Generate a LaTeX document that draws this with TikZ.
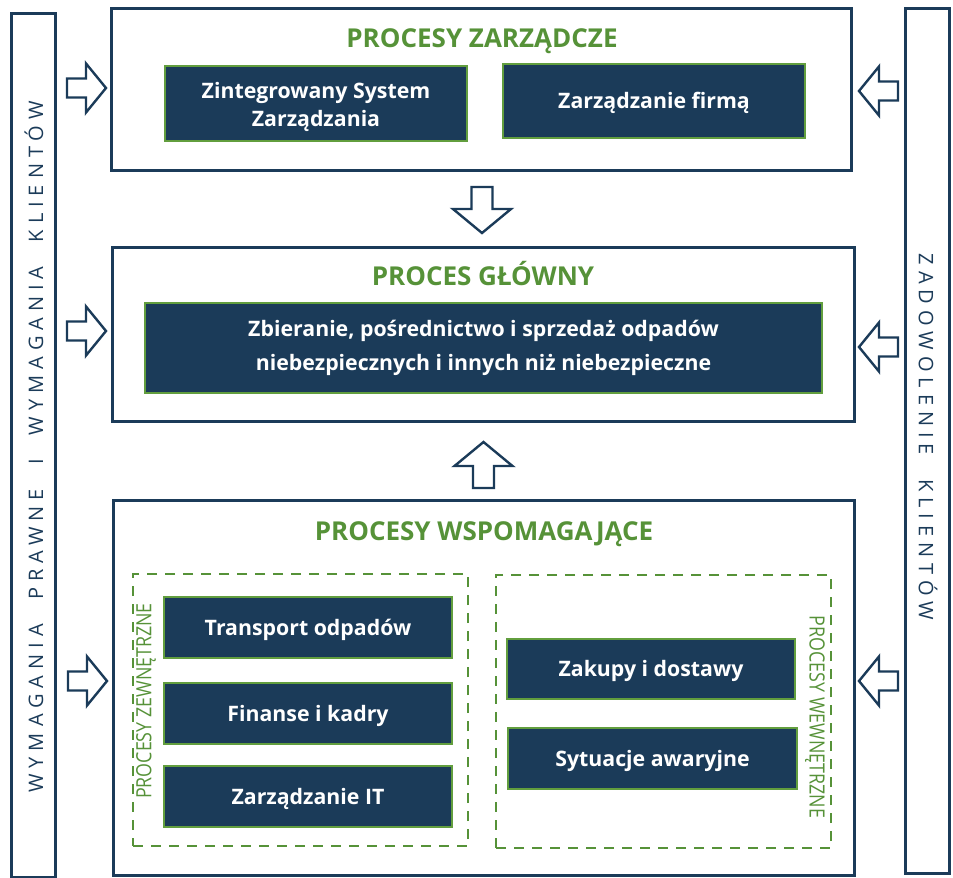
\documentclass[tikz,border=0pt]{standalone}
\usepackage{fontspec}
\setmainfont{Open Sans}
\newfontfamily\sidefont[LetterSpace=30]{Open Sans}
\newfontfamily\dashfont[FakeStretch=0.85]{Open Sans}
\newcommand\sgap{\hspace{13pt}}
\definecolor{navy}{RGB}{27,59,89}
\definecolor{leaf}{RGB}{86,146,56}
\definecolor{leafline}{RGB}{98,158,62}
\begin{document}
\begin{tikzpicture}[x=1pt,y=-1pt,
  outerbox/.style={draw=navy,line width=3pt,fill=white,inner sep=0pt},
  sidebar/.style={draw=navy,line width=3pt,fill=white,inner sep=0pt},
  procbox/.style={draw=leafline,line width=1.2pt,fill=navy,text=white,inner sep=0pt,align=center,
     font=\fontsize{21.3}{34}\selectfont\bfseries},
  oneline/.style={text height=18pt,text depth=3pt},
  boxtext/.style={text=white,inner sep=0pt,align=center,font=\fontsize{21.3}{28}\selectfont\bfseries},
  titletext/.style={text=leaf,font=\fontsize{26}{30}\selectfont\bfseries,inner sep=0pt,anchor=base},
  dashbox/.style={draw=leaf,line width=2.4pt,dash pattern=on 10pt off 8pt,inner sep=0pt},
  dashlabel/.style={text=leaf,font=\fontsize{21}{24}\dashfont,inner sep=0pt},
  sidelabel/.style={text=navy,font=\fontsize{20}{22}\sidefont,inner sep=0pt},
  arrowline/.style={draw=navy,line width=2.4pt,fill=white,line join=miter},
  pics/sidearrow/.style={code={\path[arrowline] (0,-9.5)--(19,-9.5)--(19,-24.5)--(39,0)--(19,24.5)--(19,9.5)--(0,9.5)--cycle;}},
  pics/vertarrow/.style={code={\path[arrowline] (0,-10.5)--(22,-10.5)--(22,-29)--(46,0)--(22,29)--(22,10.5)--(0,10.5)--cycle;}}
]
\useasboundingbox (0,0) rectangle (953,878);
\fill[white] (0,0) rectangle (953,878);

% side bars
\node[sidebar,minimum width=43.5,minimum height=864] (lbar) at (33.25,445) {};
\node[sidebar,minimum width=43.5,minimum height=864.5] (rbar) at (927.25,440.75) {};
\node[sidelabel,rotate=90] (ltext) at (34,447) {WYMAGANIA \sgap PRAWNE \sgap I \sgap WYMAGANIA \sgap KLIENTÓW};
\node[sidelabel,rotate=-90] (rtext) at (928,437) {ZADOWOLENIE \sgap KLIENTÓW};

% outer process boxes
\node[outerbox,minimum width=740,minimum height=162] (topbox) at (481.5,89) {};
\node[outerbox,minimum width=742,minimum height=174] (midbox) at (483,334) {};
\node[outerbox,minimum width=741,minimum height=375] (botbox) at (483.5,687.5) {};

% titles
\node[titletext] (t1) at (482,47.5) {PROCESY ZARZĄDCZE};
\node[titletext] (t2) at (483,285.5) {PROCES GŁÓWNY};
\node[titletext] (t3) at (484,540) {PROCESY WSPOMAGAJĄCE};

% top inner boxes
\node[procbox,minimum width=302,minimum height=75] (zsz) at (316,103.5) {};
\node[boxtext] (zsztext) at ([yshift=-3.5pt]zsz.center) {Zintegrowany System\\Zarządzania};
\node[procbox,oneline,minimum width=302,minimum height=74] (firma) at (654,101) {Zarządzanie firmą};

% main process box
\node[procbox,minimum width=677,minimum height=90] (main) at (483.5,348) {Zbieranie, pośrednictwo i sprzedaż odpadów\\niebezpiecznych i innych niż niebezpieczne};

% dashed groups
\node[dashbox,minimum width=335,minimum height=272] (ext) at (300.5,710) {};
\node[dashbox,minimum width=335,minimum height=273] (int) at (663.5,711.5) {};
\node[dashlabel,rotate=90] (extl) at (146,701) {PROCESY ZEWNĘTRZNE};
\node[dashlabel,rotate=-90] (intl) at (815,717) {PROCESY WEWNĘTRZNE};

% support boxes
\node[procbox,oneline,minimum width=288,minimum height=61] (transport) at (308,627.5) {Transport odpadów};
\node[procbox,oneline,minimum width=288,minimum height=61] (finanse) at (308,713.5) {Finanse i kadry};
\node[procbox,oneline,minimum width=288,minimum height=61] (it) at (308,796.5) {Zarządzanie IT};
\node[procbox,oneline,minimum width=288,minimum height=60] (zakupy) at (651,669) {Zakupy i dostawy};
\node[procbox,oneline,minimum width=289,minimum height=61] (awarie) at (652.5,758.5) {Sytuacje awaryjne};

% block arrows
\pic (la1) at (67,88) {sidearrow};
\pic (la2) at (67,331) {sidearrow};
\pic (la3) at (68,681) {sidearrow};
\pic[rotate=180] (ra1) at (898,91) {sidearrow};
\pic[rotate=180] (ra2) at (898,347) {sidearrow};
\pic[rotate=180] (ra3) at (898,681) {sidearrow};
\pic[rotate=-90] (da) at (482,187) {vertarrow};
\pic[rotate=90] (ua) at (483.5,488) {vertarrow};
\end{tikzpicture}
\end{document}
